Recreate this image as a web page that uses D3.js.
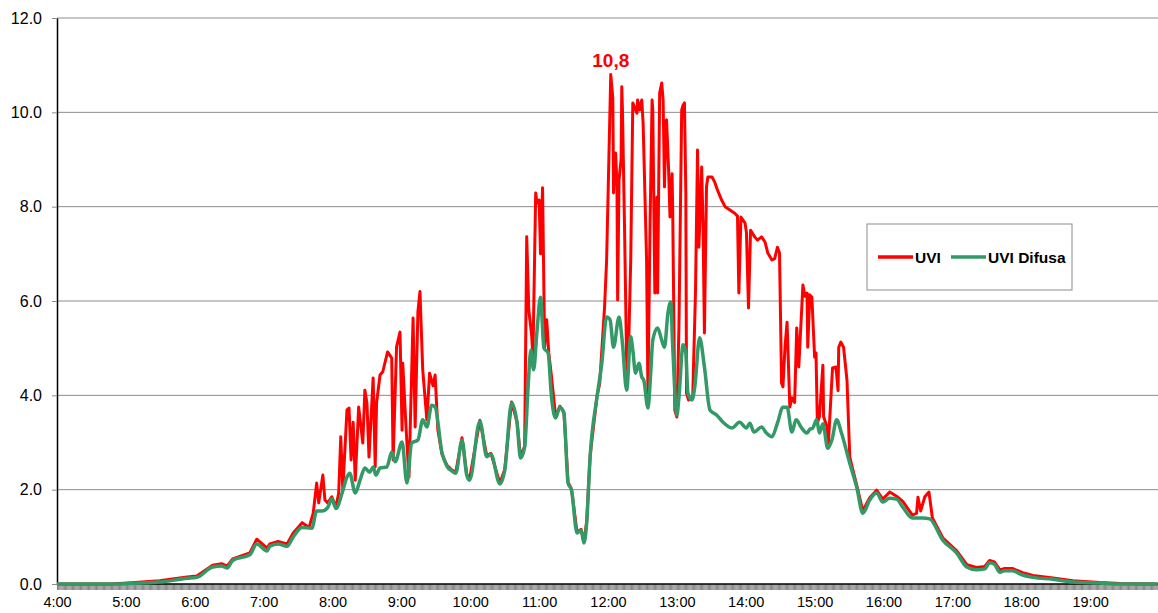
<!DOCTYPE html>
<html>
<head>
<meta charset="utf-8">
<script src="https://cdn.jsdelivr.net/npm/d3@7"></script>
<style>
  body { margin: 0; background: #fff; }
  svg { display: block; font-family: "Liberation Sans", Arial, sans-serif; }
</style>
</head>
<body>
<div id="chart"></div>
<script>
// Hour labels on the x axis and value ticks on the y axis
const hourLabels = ["4:00", "5:00", "6:00", "7:00", "8:00", "9:00", "10:00", "11:00",
  "12:00", "13:00", "14:00", "15:00", "16:00", "17:00", "18:00", "19:00"];
const yTicks = [0, 2, 4, 6, 8, 10, 12];

// [hour of day, UVI]
const uvi = [
  [4.00, 0], [4.77, 0], [5.03, 0.02], [5.49, 0.07], [5.89, 0.15], [6.03, 0.17], [6.26, 0.4],
  [6.39, 0.43], [6.47, 0.38], [6.55, 0.53], [6.80, 0.66], [6.90, 0.95], [7.05, 0.76], [7.09, 0.85],
  [7.21, 0.9], [7.34, 0.85], [7.43, 1.08], [7.56, 1.3], [7.66, 1.2], [7.72, 1.5], [7.77, 2.14],
  [7.80, 1.72], [7.86, 2.31], [7.89, 1.78], [7.93, 1.72], [7.99, 1.85], [8.05, 1.63], [8.09, 1.93],
  [8.12, 3.12], [8.15, 2.0], [8.21, 3.69], [8.24, 3.73], [8.27, 2.63], [8.30, 3.43], [8.33, 2.2],
  [8.38, 3.75], [8.44, 2.99], [8.47, 4.11], [8.50, 3.84], [8.53, 2.69], [8.59, 4.37], [8.62, 2.48],
  [8.64, 3.84], [8.69, 4.43], [8.73, 4.5], [8.80, 4.92], [8.86, 4.79], [8.88, 2.63], [8.93, 5.03],
  [8.98, 5.34], [9.01, 3.26], [9.02, 4.68], [9.07, 3.26], [9.11, 2.27], [9.17, 5.64], [9.20, 3.33],
  [9.24, 5.77], [9.27, 6.2], [9.31, 4.54], [9.37, 3.48], [9.41, 4.47], [9.46, 4.2], [9.49, 4.43],
  [9.53, 3.26], [9.59, 2.75], [9.66, 2.52], [9.73, 2.42], [9.79, 2.37], [9.88, 3.1], [9.95, 2.32],
  [9.99, 2.22], [10.14, 3.47], [10.24, 2.72], [10.30, 2.77], [10.43, 2.14], [10.50, 2.42],
  [10.60, 3.86], [10.68, 3.43], [10.73, 2.69], [10.79, 2.92], [10.82, 7.36], [10.85, 5.81],
  [10.89, 5.3], [10.91, 4.81], [10.95, 8.29], [10.97, 8.08], [11.00, 8.14], [11.02, 7.0],
  [11.05, 8.4], [11.08, 5.02], [11.11, 5.6], [11.14, 4.9], [11.18, 4.39], [11.24, 3.54],
  [11.30, 3.77], [11.36, 3.64], [11.42, 2.16], [11.47, 2.01], [11.55, 1.1], [11.61, 1.16],
  [11.65, 0.89], [11.69, 1.31], [11.74, 2.71], [11.84, 3.98], [11.88, 4.26], [11.95, 5.87],
  [11.98, 6.87], [12.04, 10.8], [12.07, 10.3], [12.08, 8.29], [12.11, 9.14], [12.13, 8.5],
  [12.14, 6.02], [12.16, 8.56], [12.19, 9.0], [12.20, 10.54], [12.21, 10.05], [12.24, 7.57],
  [12.27, 4.75], [12.29, 4.47], [12.33, 6.87], [12.36, 10.2], [12.42, 9.98], [12.43, 10.26],
  [12.46, 10.05], [12.49, 10.26], [12.51, 9.77], [12.56, 6.87], [12.58, 4.05], [12.61, 7.57],
  [12.64, 10.26], [12.65, 10.05], [12.68, 6.17], [12.71, 8.2], [12.72, 6.17], [12.75, 10.41],
  [12.78, 10.62], [12.80, 10.26], [12.82, 8.42], [12.84, 9.77], [12.85, 9.84], [12.88, 8.78],
  [12.90, 7.78], [12.93, 8.7], [12.94, 7.86], [12.97, 3.69], [13.00, 3.54], [13.03, 5.45],
  [13.07, 10.05], [13.09, 10.15], [13.11, 10.2], [13.13, 8.29], [13.14, 4.05], [13.17, 3.9],
  [13.23, 3.96], [13.27, 6.17], [13.30, 9.2], [13.32, 7.14], [13.36, 8.84], [13.38, 7.57],
  [13.40, 5.32], [13.43, 8.42], [13.45, 8.63], [13.51, 8.63], [13.55, 8.52], [13.59, 8.35],
  [13.65, 8.14], [13.70, 8.0], [13.77, 7.93], [13.84, 7.86], [13.88, 7.8], [13.90, 6.17],
  [13.93, 7.78], [13.99, 7.65], [14.01, 7.45], [14.04, 5.85], [14.07, 7.5], [14.13, 7.36],
  [14.17, 7.29], [14.23, 7.36], [14.28, 7.25], [14.32, 7.02], [14.38, 6.87], [14.42, 6.9],
  [14.46, 7.14], [14.49, 7.02], [14.52, 4.26], [14.54, 4.18], [14.57, 5.02], [14.60, 5.55],
  [14.64, 3.75], [14.67, 3.95], [14.71, 3.85], [14.74, 5.43], [14.77, 4.6], [14.83, 6.34],
  [14.86, 6.1], [14.89, 6.17], [14.90, 5.02], [14.93, 6.13], [14.96, 6.08], [15.00, 4.81],
  [15.02, 4.9], [15.04, 3.41], [15.07, 3.55], [15.12, 4.64], [15.13, 3.55], [15.18, 3.33],
  [15.20, 2.99], [15.26, 4.58], [15.31, 4.6], [15.34, 4.1], [15.35, 5.02], [15.38, 5.13],
  [15.42, 5.02], [15.47, 4.32], [15.51, 2.69], [15.55, 2.45], [15.61, 2.1], [15.70, 1.55],
  [15.80, 1.83], [15.90, 1.99], [15.99, 1.8], [16.09, 1.95], [16.19, 1.86], [16.28, 1.75],
  [16.42, 1.46], [16.48, 1.5], [16.50, 1.84], [16.54, 1.55], [16.60, 1.85], [16.66, 1.95],
  [16.71, 1.4], [16.86, 0.98], [17.06, 0.71], [17.21, 0.41], [17.35, 0.35], [17.47, 0.37],
  [17.54, 0.5], [17.61, 0.47], [17.69, 0.3], [17.76, 0.33], [17.87, 0.33], [18.02, 0.24],
  [18.17, 0.18], [18.46, 0.13], [18.75, 0.07], [19.14, 0.03], [19.43, 0.01], [19.98, 0]
];

// [hour of day, diffuse UVI]
const uviDifusa = [
  [4.00, 0], [4.77, 0], [5.03, 0.01], [5.49, 0.04], [5.89, 0.12], [6.03, 0.14], [6.26, 0.36],
  [6.39, 0.38], [6.47, 0.34], [6.55, 0.5], [6.80, 0.62], [6.90, 0.85], [7.05, 0.7], [7.09, 0.8],
  [7.21, 0.85], [7.34, 0.8], [7.43, 1.0], [7.56, 1.2], [7.70, 1.18], [7.77, 1.55], [7.85, 1.55],
  [7.93, 1.62], [7.99, 1.8], [8.05, 1.6], [8.14, 1.93], [8.21, 2.27], [8.25, 2.35], [8.33, 1.93],
  [8.40, 2.2], [8.47, 2.46], [8.54, 2.37], [8.59, 2.48], [8.63, 2.31], [8.69, 2.46], [8.79, 2.48],
  [8.86, 2.8], [8.91, 2.59], [9.01, 3.01], [9.08, 2.14], [9.15, 2.99], [9.24, 3.05], [9.31, 3.48],
  [9.37, 3.33], [9.44, 3.79], [9.49, 3.75], [9.59, 2.78], [9.66, 2.5], [9.73, 2.4], [9.79, 2.35],
  [9.88, 3.05], [9.95, 2.3], [9.99, 2.2], [10.14, 3.45], [10.24, 2.7], [10.30, 2.75], [10.43, 2.12],
  [10.50, 2.4], [10.60, 3.84], [10.68, 3.41], [10.73, 2.67], [10.79, 2.9], [10.84, 4.18],
  [10.88, 4.96], [10.92, 4.54], [10.97, 5.38], [11.02, 6.08], [11.07, 5.0], [11.13, 4.9],
  [11.18, 3.96], [11.24, 3.52], [11.30, 3.75], [11.36, 3.62], [11.42, 2.14], [11.47, 1.99],
  [11.55, 1.08], [11.61, 1.14], [11.65, 0.87], [11.69, 1.29], [11.74, 2.69], [11.84, 3.96],
  [11.91, 4.68], [11.98, 5.66], [12.03, 5.6], [12.08, 5.02], [12.16, 5.66], [12.21, 5.1],
  [12.27, 4.11], [12.33, 5.24], [12.36, 4.96], [12.40, 4.47], [12.45, 4.68], [12.49, 4.39],
  [12.52, 4.32], [12.58, 3.73], [12.62, 4.47], [12.65, 5.17], [12.72, 5.43], [12.78, 5.17],
  [12.82, 5.02], [12.87, 5.74], [12.91, 5.98], [12.94, 5.02], [13.00, 3.58], [13.03, 3.96],
  [13.09, 5.07], [13.13, 4.9], [13.16, 4.05], [13.22, 3.9], [13.26, 4.18], [13.33, 5.22],
  [13.40, 4.6], [13.48, 3.69], [13.58, 3.58], [13.67, 3.43], [13.80, 3.31], [13.91, 3.43],
  [14.01, 3.31], [14.06, 3.41], [14.12, 3.22], [14.23, 3.33], [14.30, 3.2], [14.38, 3.12],
  [14.46, 3.41], [14.54, 3.75], [14.60, 3.75], [14.67, 3.22], [14.73, 3.48], [14.81, 3.31],
  [14.89, 3.2], [14.93, 3.28], [14.97, 3.3], [15.03, 3.48], [15.07, 3.2], [15.12, 3.4],
  [15.19, 2.88], [15.25, 3.05], [15.32, 3.48], [15.39, 3.2], [15.51, 2.56], [15.61, 2.06],
  [15.70, 1.5], [15.80, 1.78], [15.90, 1.93], [15.99, 1.74], [16.09, 1.82], [16.19, 1.8],
  [16.28, 1.63], [16.42, 1.4], [16.57, 1.4], [16.67, 1.38], [16.86, 0.93], [17.06, 0.66],
  [17.21, 0.36], [17.35, 0.3], [17.47, 0.32], [17.54, 0.45], [17.61, 0.42], [17.69, 0.25],
  [17.76, 0.28], [17.87, 0.28], [18.02, 0.19], [18.17, 0.14], [18.46, 0.1], [18.75, 0.04],
  [19.14, 0.02], [19.43, 0], [19.98, 0]
];

const seriesNames = ["UVI", "UVI Difusa"];
const seriesColors = ["#ff0000", "#339966"];
const peak = { label: "10,8", hour: 12.04, value: 10.8 };

const width = 1158, height = 613;
const margin = { top: 18, right: 0, bottom: 29, left: 57 };

const svg = d3.select("#chart").append("svg")
  .attr("width", width)
  .attr("height", height);

const x = d3.scaleLinear().domain([4, 20]).range([margin.left, 1159]);
const y = d3.scaleLinear().domain([0, 12]).range([height - margin.bottom, margin.top]);

// horizontal grid
svg.append("g")
  .selectAll("line")
  .data(yTicks.filter(d => d > 0))
  .join("line")
  .attr("x1", margin.left).attr("x2", width)
  .attr("y1", d => y(d)).attr("y2", d => y(d))
  .attr("stroke", "#8c8c8c")
  .attr("stroke-width", 1);

// minute ticks along the bottom
const minuteAxis = svg.append("g")
  .attr("transform", `translate(0,${y(0)})`)
  .call(d3.axisBottom(x).tickValues(d3.range(4, 20, 1 / 60)).tickSize(6).tickFormat(""));
minuteAxis.select(".domain").remove();
minuteAxis.selectAll(".tick line").attr("stroke", "#666").attr("stroke-width", 0.8);

// hour labels
const hourAxis = svg.append("g")
  .attr("transform", `translate(0,${y(0)})`)
  .call(d3.axisBottom(x).tickValues(d3.range(4, 20)).tickSize(0).tickPadding(13)
    .tickFormat((d, i) => hourLabels[i]));
hourAxis.select(".domain").remove();
hourAxis.selectAll("text").attr("font-size", 14.5).attr("fill", "#000")
  .attr("font-family", "'Liberation Sans', Arial, sans-serif");

// y axis
const yAxis = svg.append("g")
  .attr("transform", `translate(${margin.left},0)`)
  .call(d3.axisLeft(y).tickValues(yTicks).tickSize(5).tickSizeOuter(0).tickPadding(10)
    .tickFormat(d3.format(".1f")));
yAxis.select(".domain").attr("stroke", "#000").attr("stroke-width", 1.5);
yAxis.selectAll(".tick line").attr("stroke", "#8c8c8c");
yAxis.selectAll("text").attr("font-size", 16).attr("fill", "#000")
  .attr("font-family", "'Liberation Sans', Arial, sans-serif");

// x axis line
svg.append("line")
  .attr("x1", margin.left).attr("x2", width)
  .attr("y1", y(0)).attr("y2", y(0))
  .attr("stroke", "#000").attr("stroke-width", 1.5);

// series
const redLine = d3.line().x(d => x(d[0])).y(d => y(d[1]));
const greenLine = d3.line().x(d => x(d[0])).y(d => y(d[1])).curve(d3.curveMonotoneX);

svg.append("path")
  .datum(uvi)
  .attr("fill", "none")
  .attr("stroke", seriesColors[0])
  .attr("stroke-width", 3)
  .attr("stroke-linejoin", "round")
  .attr("d", redLine);

svg.append("path")
  .datum(uviDifusa)
  .attr("fill", "none")
  .attr("stroke", seriesColors[1])
  .attr("stroke-width", 3.5)
  .attr("stroke-linejoin", "round")
  .attr("d", greenLine);

// peak annotation
svg.append("text")
  .attr("x", x(peak.hour))
  .attr("y", y(peak.value) - 8)
  .attr("text-anchor", "middle")
  .attr("font-size", 19)
  .attr("font-weight", "bold")
  .attr("fill", "#ff0000")
  .text(peak.label);

// legend
const legend = svg.append("g").attr("transform", "translate(867,224)");
legend.append("rect")
  .attr("width", 205).attr("height", 66)
  .attr("fill", "#fff").attr("stroke", "#8c8c8c").attr("stroke-width", 1);
const legendItems = [{ x0: 11, tx: 48 }, { x0: 84, tx: 121 }];
seriesNames.forEach((name, i) => {
  legend.append("line")
    .attr("x1", legendItems[i].x0).attr("x2", legendItems[i].x0 + 35)
    .attr("y1", 33).attr("y2", 33)
    .attr("stroke", seriesColors[i]).attr("stroke-width", 3.5);
  legend.append("text")
    .attr("x", legendItems[i].tx).attr("y", 38.5)
    .attr("font-size", 15.5).attr("font-weight", "bold")
    .text(name);
});
</script>
</body>
</html>
